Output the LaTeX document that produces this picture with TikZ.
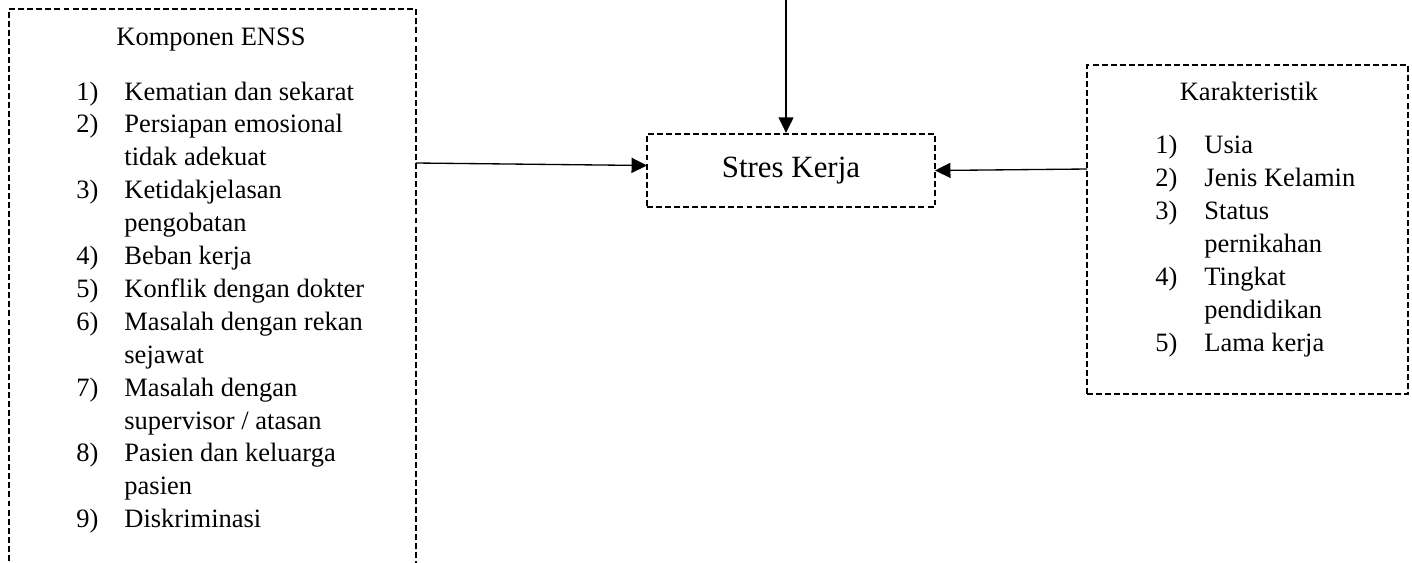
\documentclass[tikz,border=0pt]{standalone}
\usepackage{fontspec}
\setmainfont{Liberation Serif}
\usetikzlibrary{arrows.meta}
\begin{document}
\begin{tikzpicture}[x=0.453pt,y=-0.453pt,
  dbox/.style={draw, line width=1.05pt, dash pattern=on 2.7pt off 1.4pt, rectangle, inner sep=0pt},
  arr/.style={line width=0.6pt, -{Triangle[length=7pt,width=6.8pt]}},
  txt/.style={anchor=base west, inner sep=0pt, font=\fontsize{12}{14}\selectfont},
  ttl/.style={anchor=base, inner sep=0pt, font=\fontsize{12}{14}\selectfont}]
\useasboundingbox (0,0) rectangle (1412,562);
\clip (0,0) rectangle (1412,562);
% boxes
\node[dbox, minimum width=184.4pt, minimum height=290pt] (lbox) at (212.5,329) {};
\node[dbox, minimum width=130.5pt, minimum height=33.1pt, font=\fontsize{14}{16}\selectfont] (stres) at (791,170.5) {Stres Kerja};
\node[dbox, minimum width=145.4pt, minimum height=149pt] (rbox) at (1247.5,229.5) {};
% left box text
\node[ttl] (ltitle) at (211,45) {Komponen ENSS};
\node[txt] (ln1) at (76,100) {1)};      \node[txt] (lt1) at (124,100) {Kematian dan sekarat};
\node[txt] (ln2) at (76,132.9) {2)};    \node[txt] (lt2) at (124,132.9) {Persiapan emosional};
                                        \node[txt] (lt2b) at (124,165.8) {tidak adekuat};
\node[txt] (ln3) at (76,198.7) {3)};    \node[txt] (lt3) at (124,198.7) {Ketidakjelasan};
                                        \node[txt] (lt3b) at (124,231.6) {pengobatan};
\node[txt] (ln4) at (76,264.5) {4)};    \node[txt] (lt4) at (124,264.5) {Beban kerja};
\node[txt] (ln5) at (76,297.4) {5)};    \node[txt] (lt5) at (124,297.4) {Konflik dengan dokter};
\node[txt] (ln6) at (76,330.3) {6)};    \node[txt] (lt6) at (124,330.3) {Masalah dengan rekan};
                                        \node[txt] (lt6b) at (124,363.2) {sejawat};
\node[txt] (ln7) at (76,396.1) {7)};    \node[txt] (lt7) at (124,396.1) {Masalah dengan};
                                        \node[txt] (lt7b) at (124,429) {supervisor / atasan};
\node[txt] (ln8) at (76,461.9) {8)};    \node[txt] (lt8) at (124,461.9) {Pasien dan keluarga};
                                        \node[txt] (lt8b) at (124,494.8) {pasien};
\node[txt] (ln9) at (76,527.7) {9)};    \node[txt] (lt9) at (124,527.7) {Diskriminasi};
% right box text
\node[ttl] (rtitle) at (1249,100) {Karakteristik};
\node[txt] (rn1) at (1155,153) {1)};    \node[txt] (rt1) at (1204,153) {Usia};
\node[txt] (rn2) at (1155,186) {2)};    \node[txt] (rt2) at (1204,186) {Jenis Kelamin};
\node[txt] (rn3) at (1155,219) {3)};    \node[txt] (rt3) at (1204,219) {Status};
                                        \node[txt] (rt3b) at (1204,252) {pernikahan};
\node[txt] (rn4) at (1155,285) {4)};    \node[txt] (rt4) at (1204,285) {Tingkat};
                                        \node[txt] (rt4b) at (1204,318) {pendidikan};
\node[txt] (rn5) at (1155,351) {5)};    \node[txt] (rt5) at (1204,351) {Lama kerja};
% connectors
\coordinate (topin) at (786,0);
\coordinate (lout) at (416,163);
\coordinate (lin) at (647,165.5);
\coordinate (rout) at (1087,169);
\coordinate (rin) at (935,170.5);
\draw[arr] (topin) -- (topin |- stres.north);
\draw[arr] (lout) -- (lin);
\draw[arr] (rout) -- (rin);
\end{tikzpicture}
\end{document}
